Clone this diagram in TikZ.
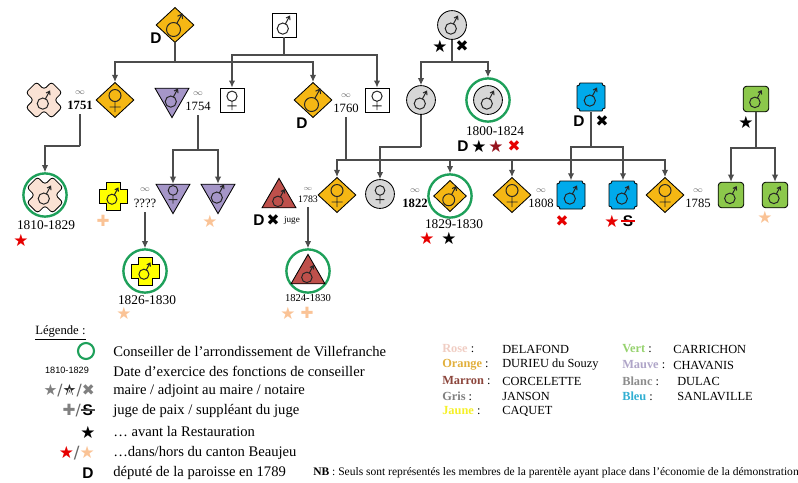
\documentclass[tikz,border=0pt]{standalone}
\usepackage{fontspec}
\setmainfont{Liberation Serif}
\newfontfamily\symf{DejaVu Sans}
\newfontfamily\arialf{Liberation Sans}
\usetikzlibrary{shapes.geometric,arrows.meta}

\definecolor{coOrange}{RGB}{245,183,20}
\definecolor{coRose}{RGB}{250,226,212}
\definecolor{coMauve}{RGB}{165,150,200}
\definecolor{coGris}{RGB}{215,215,215}
\definecolor{coJaune}{RGB}{255,255,0}
\definecolor{coMarron}{RGB}{190,80,75}
\definecolor{coBleu}{RGB}{0,170,235}
\definecolor{coVert}{RGB}{140,200,75}
\definecolor{coRing}{RGB}{30,160,90}
\definecolor{coPeche}{RGB}{250,195,150}
\definecolor{coRouge}{RGB}{230,0,0}
\definecolor{coBordeaux}{RGB}{150,20,30}
\definecolor{lgRose}{RGB}{240,205,195}
\definecolor{lgOrange}{RGB}{225,175,60}
\definecolor{lgMarron}{RGB}{140,70,60}
\definecolor{lgGris}{RGB}{128,128,128}
\definecolor{lgJaune}{RGB}{245,240,40}
\definecolor{lgVert}{RGB}{150,210,110}
\definecolor{lgMauve}{RGB}{175,165,200}
\definecolor{lgBlanc}{RGB}{140,140,140}
\definecolor{lgBleu}{RGB}{50,175,210}

\newcommand\infini{\textcolor{black!55}{$\scriptstyle\infty$}}
\newcommand\barreS[1]{\ooalign{\hfil{\arialf\bfseries S}\hfil\cr\hss\textcolor{#1}{\rule[.3em]{.9em}{.12em}}\hss\cr}}
\newcommand\etoileA{\ooalign{\textcolor{black!85}{★}\cr\hss\raisebox{.12em}{\textcolor{white}{\arialf\bfseries\fontsize{5.5}{6}\selectfont A}}\hss\cr}}

\tikzset{
  lien/.style={draw=black!70, line width=0.8pt},
  fleche/.style={lien, -{Latex[length=5pt,width=4.5pt]}},
  forme/.style={draw=black, line width=0.6pt},
  symb/.style={draw=black!85, line width=0.7pt},
  personne/.style={forme, inner sep=0pt},
  durieu/.style={personne, diamond, fill=coOrange, minimum width=0.95cm, minimum height=0.88cm},
  dulac/.style={personne, rectangle, fill=white, minimum size=0.6cm},
  janson/.style={personne, circle, fill=coGris, minimum size=0.72cm},
  chavanis/.style={personne, regular polygon, regular polygon sides=3, shape border rotate=180, fill=coMauve, minimum size=0.98cm},
  corcelette/.style={personne, regular polygon, regular polygon sides=3, fill=coMarron, minimum size=0.98cm},
  carrichon/.style={personne, rectangle, rounded corners=2.5pt, fill=coVert, minimum size=0.64cm},
  vide/.style={circle, minimum size=0.72cm, inner sep=0pt},
  conseil/.style={circle, draw=coRing, line width=1.7pt, minimum size=1.08cm, inner sep=0pt},
  lettre/.style={font=\arialf\bfseries\fontsize{11}{11}\selectfont, inner sep=0pt},
  etoile/.style={font=\symf\fontsize{12}{12}\selectfont, inner sep=0pt},
  croixn/.style={font=\symf\fontsize{11}{11}\selectfont, inner sep=0pt},
  annee/.style={font=\fontsize{9.5}{10}\selectfont, inner sep=0pt},
  mariage/.style={align=center, font=\fontsize{9}{11}\selectfont, inner xsep=0pt, inner ysep=3pt},
  legende/.style={anchor=west, font=\fontsize{10.4}{10}\selectfont, inner sep=0pt},
  famille/.style={anchor=west, font=\fontsize{8.8}{9}\selectfont, inner sep=0pt},
  male/.pic={\draw[symb] (-1.5,4.5) circle (7) (1.86,-1.63) -- (7,-11) (2.5,-8.8) -- (7,-11) -- (7.55,-6);},
  femelle/.pic={\draw[symb] (0,-4.5) circle (6) (0,1.5) -- (0,12) (-5.5,7) -- (5.5,7);},
  croixrose/.pic={\filldraw[forme, fill=coRose, rounded corners=2pt] (-18,-7.4) -- (-7.4,-18) -- (0,-10.6) -- (7.4,-18) -- (18,-7.4) -- (10.6,0) -- (18,7.4) -- (7.4,18) -- (0,10.6) -- (-7.4,18) -- (-18,7.4) -- (-10.6,0) -- cycle;},
  croixjaune/.pic={\filldraw[forme, fill=coJaune] (-7,-14) -- (7,-14) -- (7,-7) -- (14,-7) -- (14,7) -- (7,7) -- (7,14) -- (-7,14) -- (-7,7) -- (-14,7) -- (-14,-7) -- (-7,-7) -- cycle;},
  plaque/.pic={\filldraw[forme, fill=coBleu] (-11,-14) -- (11,-14) arc[start angle=180, end angle=90, radius=3] -- (14,11) arc[start angle=270, end angle=180, radius=3] -- (-11,14) arc[start angle=0, end angle=-90, radius=3] -- (-14,-11) arc[start angle=90, end angle=0, radius=3] -- cycle;}
}

\begin{document}
\begin{tikzpicture}[x=0.025cm, y=-0.025cm]
\useasboundingbox (0,0) rectangle (798,482);

\node[durieu] (durA) at (175,25) {};
\pic at (durA) {male};
\node[lettre] (dA) at (156,38) {D};
\node[dulac] (dulB) at (284,25) {};
\pic[scale=.8] at (dulB) {male};
\node[janson] (janC) at (452,25) {};
\pic[scale=.8] at (janC) {male};
\node[etoile] (eC) at (440,46) {★};
\node[croixn] (xC) at (462,46) {✖};

\node[vide] (dela1) at (44,100) {};
\pic at (dela1) {croixrose};
\pic[scale=.8] at (dela1) {male};
\node[mariage] (m1751) at (80,100) {\infini\\\textbf{1751}};
\node[durieu] (dur1) at (115,100) {};
\pic at (dur1) {femelle};
\node[chavanis] (cha1) at (172,98) {};
\pic[scale=.8] at (cha1) {male};
\node[mariage] (m1754) at (198,101) {\infini\\1754};
\node[dulac] (dul1) at (232,100) {};
\pic[scale=.85] at (dul1) {femelle};
\node[durieu] (dur2) at (313,100) {};
\pic at (dur2) {male};
\node[lettre] (dB) at (302,123) {D};
\node[mariage] (m1760) at (346,103) {\infini\\1760};
\node[dulac] (dul2) at (377,100) {};
\pic[scale=.85] at (dul2) {femelle};
\node[janson] (jan1) at (421,100) {};
\pic[scale=.8] at (jan1) {male};
\node[conseil] (jan2) at (488,100) {};
\node[janson] (jan2i) at (488,100) {};
\pic[scale=.8] at (jan2) {male};
\node[annee] (a1800) at (495,131) {1800-1824};
\node[lettre] (dC) at (463,146) {D};
\node[etoile] (e2) at (479,146) {★};
\node[etoile, text=coBordeaux] (e3) at (496,146) {★};
\node[croixn, text=coRouge] (x2) at (514,146) {✖};
\node[vide] (san0) at (591,97) {};
\pic at (san0) {plaque};
\pic[scale=.8] at (san0) {male};
\node[lettre] (dS) at (579,121) {D};
\node[croixn] (xS) at (602,121) {✖};
\node[carrichon] (car0) at (756,99) {};
\pic[scale=.75] at (car0) {male};
\node[etoile] (eV) at (746,122) {★};

\coordinate (jA) at (175,62);
\coordinate (jB) at (284,55);
\coordinate (jC) at (452,62);
\draw[lien] (durA) -- (jA);
\draw[fleche] (jA) -| (dur1);
\draw[fleche] (jA) -| (dur2);
\draw[lien] (dulB) -- (jB);
\draw[fleche] (jB) -| (dul1);
\draw[fleche] (jB) -| (dul2);
\draw[lien] (janC) -- (jC);
\draw[fleche] (jC) -| (jan1);
\draw[fleche] (jC) -| (jan2);

\node[conseil] (dela2) at (45,195) {};
\node[vide] (dela2i) at (45,195) {};
\pic at (dela2i) {croixrose};
\pic[scale=.8] at (dela2i) {male};
\node[annee] (a1810) at (46,225) {1810-1829};
\node[etoile, text=coRouge] (e4) at (21,240) {★};
\node[vide] (cqt1) at (113,196) {};
\pic at (cqt1) {croixjaune};
\pic[scale=.72] at (cqt1) {male};
\node[croixn, text=coPeche] (p1) at (103,221) {✚};
\node[mariage] (mq) at (145,198) {\infini\\????};
\node[chavanis] (cha2) at (173,194) {};
\pic[scale=.8] at (cha2) {femelle};
\node[chavanis] (cha3) at (218,194) {};
\pic[scale=.8] at (cha3) {male};
\node[etoile, text=coPeche] (e5) at (210,221) {★};
\node[conseil] (cqt2) at (145,271) {};
\node[vide] (cqt2i) at (145,271) {};
\pic at (cqt2i) {croixjaune};
\pic[scale=.72] at (cqt2i) {male};
\node[annee] (a1826) at (147,300) {1826-1830};
\node[etoile, text=coPeche] (e6) at (124,313) {★};

\node[corcelette] (cor1) at (279,198) {};
\pic[scale=.75] at (cor1) {male};
\node[lettre] (dM) at (259,220) {D};
\node[croixn] (xM) at (273,220) {✖};
\node[font=\fontsize{6.5}{7}\selectfont, inner sep=0pt] (jM) at (292,220) {juge};
\node[mariage, font=\fontsize{7}{9}\selectfont] (m1783) at (308,195) {\infini\\1783};
\node[conseil] (cor2) at (308,271) {};
\node[corcelette] (cor2i) at (308,274) {};
\pic[scale=.75] at (cor2i) {male};
\node[annee, font=\fontsize{7.5}{8}\selectfont] (a1824) at (308,298) {1824-1830};
\node[etoile, text=coPeche] (e7) at (288,313) {★};
\node[croixn, text=coPeche] (p2) at (307,313) {✚};

\node[durieu] (dur3) at (337,195) {};
\pic at (dur3) {femelle};
\node[janson] (jan3) at (380,194) {};
\pic[scale=.8] at (jan3) {femelle};
\node[mariage] (m1822) at (415,198) {\infini\\\textbf{1822}};
\node[conseil] (dur4) at (450,196) {};
\node[durieu, minimum width=.82cm, minimum height=.78cm] (dur4i) at (450,196) {};
\pic[scale=.85] at (dur4i) {male};
\node[annee] (a1829) at (454,224) {1829-1830};
\node[etoile, text=coRouge] (e8) at (427,238) {★};
\node[etoile] (e9) at (449,238) {★};
\node[durieu] (dur5) at (512,195) {};
\pic at (dur5) {femelle};
\node[mariage] (m1808) at (541,198) {\infini\\1808};
\node[vide] (san1) at (571,195) {};
\pic at (san1) {plaque};
\pic[scale=.8] at (san1) {male};
\node[croixn, text=coRouge] (x3) at (562,221) {✖};
\node[vide] (san2) at (623,195) {};
\pic at (san2) {plaque};
\pic[scale=.8] at (san2) {male};
\node[etoile, text=coRouge] (e10) at (612,221) {★};
\node[inner sep=0pt, font=\fontsize{11}{11}\selectfont] (sb1) at (628,221) {\barreS{coRouge}};
\node[durieu] (dur6) at (665,195) {};
\pic at (dur6) {femelle};
\node[mariage] (m1785) at (698,198) {\infini\\1785};
\node[carrichon] (car1) at (731,195) {};
\pic[scale=.75] at (car1) {male};
\node[carrichon] (car2) at (775,195) {};
\pic[scale=.75] at (car2) {male};
\node[etoile, text=coPeche] (e11) at (765,217) {★};

\coordinate (j1751) at (80,146);
\coordinate (j1754) at (198,150);
\coordinate (j1760) at (346,160);
\coordinate (jJ) at (421,147);
\coordinate (jS) at (591,147);
\coordinate (jV) at (756,148);
\draw[lien] (m1751) -- (j1751);
\draw[fleche] (j1751) -| (dela2);
\draw[lien] (m1754) -- (j1754);
\draw[fleche] (j1754) -| (cha2);
\draw[fleche] (j1754) -| (cha3);
\draw[lien] (m1760) -- (j1760);
\draw[fleche] (j1760) -| (dur3);
\draw[fleche] (j1760) -| (dur4);
\draw[fleche] (j1760) -| (dur5);
\draw[fleche] (j1760) -| (dur6);
\draw[lien] (jan1) -- (jJ);
\draw[fleche] (jJ) -| (jan3);
\draw[lien] (san0) -- (jS);
\draw[fleche] (jS) -| (san1);
\draw[fleche] (jS) -| (san2);
\draw[lien] (car0) -- (jV);
\draw[fleche] (jV) -| (car1);
\draw[fleche] (jV) -| (car2);
\draw[fleche] (mq) -- (cqt2);
\draw[fleche] (m1783) -- (cor2);

\node[anchor=west, font=\fontsize{9}{9}\selectfont, inner sep=0pt] (leg0) at (35,333) {\underline{Légende :}};
\node[conseil, minimum size=.4cm, line width=1.5pt] (leg1s) at (86,351) {};
\node[font=\arialf\fontsize{6.5}{7}\selectfont, inner sep=0pt] (leg2s) at (67,370) {1810-1829};
\node[etoile, anchor=east, font=\symf\fontsize{11}{11}\selectfont] (leg3s) at (95,391) {\textcolor{black!50}{★}\textcolor{black!60}{/}\etoileA\textcolor{black!60}{/}\textcolor{black!50}{✖}};
\node[etoile, anchor=east, font=\symf\fontsize{11}{11}\selectfont] (leg4s) at (95,411) {\textcolor{black!50}{✚}\textcolor{black!60}{/}\barreS{black!70}};
\node[etoile] (leg5s) at (88,432) {★};
\node[etoile, anchor=east] (leg6s) at (95,453) {\textcolor{coRouge}{★}\textcolor{black!60}{/}\textcolor{coPeche}{★}};
\node[lettre] (leg7s) at (88,473) {D};
\node[legende] (leg1) at (113,351) {Conseiller de l’arrondissement de Villefranche};
\node[legende] (leg2) at (113,371) {Date d’exercice des fonctions de conseiller};
\node[legende] (leg3) at (113,391) {maire / adjoint au maire / notaire};
\node[legende] (leg4) at (113,411) {juge de paix / suppléant du juge};
\node[legende] (leg5) at (113,432) {… avant la Restauration};
\node[legende] (leg6) at (113,453) {…dans/hors du canton Beaujeu};
\node[legende] (leg7) at (113,473) {député de la paroisse en 1789};

\node[famille] (f1) at (442,349) {\textbf{\textcolor{lgRose}{Rose}} :};
\node[famille] (f2) at (442,365) {\textbf{\textcolor{lgOrange}{Orange}} :};
\node[famille] (f3) at (442,381) {\textbf{\textcolor{lgMarron}{Marron}} :};
\node[famille] (f4) at (442,396) {\textbf{\textcolor{lgGris}{Gris}} :};
\node[famille] (f5) at (442,411) {\textbf{\textcolor{lgJaune}{Jaune}} :};
\node[famille] (n1) at (502,349) {DELAFOND};
\node[famille] (n2) at (502,365) {DURIEU du Souzy};
\node[famille] (n3) at (502,381) {CORCELETTE};
\node[famille] (n4) at (502,396) {JANSON};
\node[famille] (n5) at (502,411) {CAQUET};
\node[famille] (f6) at (622,349) {\textbf{\textcolor{lgVert}{Vert}} :};
\node[famille] (f7) at (622,365) {\textbf{\textcolor{lgMauve}{Mauve}} :};
\node[famille] (f8) at (622,381) {\textbf{\textcolor{lgBlanc}{Blanc}} :};
\node[famille] (f9) at (622,396) {\textbf{\textcolor{lgBleu}{Bleu}} :};
\node[famille] (n6) at (673,349) {CARRICHON};
\node[famille] (n7) at (673,365) {CHAVANIS};
\node[famille] (n8) at (677,381) {DULAC};
\node[famille] (n9) at (677,396) {SANLAVILLE};
\node[anchor=west, font=\fontsize{8.2}{8}\selectfont, inner sep=0pt] (nb) at (313,473) {\textbf{NB} : Seuls sont représentés les membres de la parentèle ayant place dans l’économie de la démonstration};
\end{tikzpicture}
\end{document}
